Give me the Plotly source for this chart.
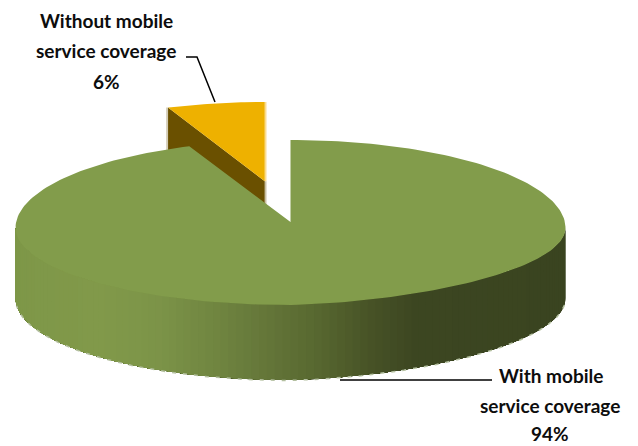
import numpy as np
import plotly.graph_objects as go

# Coverage shares, drawn clockwise from twelve o'clock
slice_names = ["With mobile service coverage", "Without mobile service coverage"]
shares = [94, 6]
label_lines_with = ["With mobile", "service coverage", "94%"]
label_lines_without = ["Without mobile", "service coverage", "6%"]

GREEN = "#829c4b"
GOLD = "#eeb100"
GOLD_WALL = "#6a5000"
# Rim shading, sampled left to right across the front of the disc
rim_stops_x = [16, 100, 160, 220, 270, 320, 370, 420, 566]
rim_stops_rgb = [
    (126, 151, 72), (129, 153, 74), (124, 148, 72), (112, 133, 64), (100, 118, 57),
    (88, 104, 48), (72, 84, 39), (60, 70, 33), (58, 68, 32),
]

# Projection of the tilted disc onto the page
CX, APEX_Y = 290.5, 222.0
RX = 275.0
RIM_Y = 228.0          # height of the widest part of the top face
RY_BACK, RY_FRONT = 88.0, 77.0
BASE_Y, RY_BASE = 298.0, 82.0
SKEW = 4.0
EXPLODE = 0.5
EXPLODED_SCALE = 0.955
EXPLODED_RY = 83.0


def outline(deg, cy, ry_back, ry_front):
    t = np.radians(deg)
    c, s = np.cos(t), np.sin(t)
    x = CX + RX * s
    y = cy - np.where(c > 0, ry_back, ry_front) * c
    # right-front quadrant sits slightly higher
    y = y + SKEW * np.where((s > 0) & (c < 0), np.sin(2 * t), 0)
    return x, y


def top_edge(deg):
    return outline(deg, RIM_Y, RY_BACK, RY_FRONT)


def base_edge(deg):
    return outline(deg, BASE_Y, RY_BASE, RY_BASE)


def poly(x, y, color, width=0.0):
    return go.Scatter(
        x=list(x), y=list(y), mode="lines", fill="toself", fillcolor=color,
        line=dict(color=color, width=width), hoverinfo="skip", showlegend=False,
    )


def stroke(x, y, color, width, dash="solid"):
    return go.Scatter(
        x=list(x), y=list(y), mode="lines", line=dict(color=color, width=width, dash=dash),
        hoverinfo="skip", showlegend=False,
    )


fig = go.Figure()

# Sweep of each slice in degrees
total = sum(shares)
main_sweep = 360.0 * shares[0] / total
gold_start, gold_end = main_sweep - 360.0, 0.0
mid = np.radians((gold_start + gold_end) / 2)

# Pulled-out slice sits behind the main disc
apex_x = CX + EXPLODE * RX * np.sin(mid)
apex_y = APEX_Y - EXPLODE * EXPLODED_RY * np.cos(mid)
arc = np.linspace(gold_start, gold_end, 30)
arc_r = np.radians(arc)
gold_x = apex_x + EXPLODED_SCALE * RX * np.sin(arc_r)
gold_y = apex_y - EXPLODED_SCALE * EXPLODED_RY * np.cos(arc_r)
depth = BASE_Y - RIM_Y

fig.add_trace(poly(
    [gold_x[0], apex_x, apex_x, gold_x[0]],
    [gold_y[0], apex_y, apex_y + depth, gold_y[0] + depth],
    GOLD_WALL,
))
fig.add_trace(stroke([gold_x[0] - 1, gold_x[0] - 1], [gold_y[0], gold_y[0] + depth], "#c9c0a4", 1.5))
fig.add_trace(stroke([apex_x + 1, apex_x + 1], [apex_y, apex_y + depth], "#c9c0a4", 1.5))
fig.add_trace(poly(
    np.concatenate([[apex_x], gold_x]), np.concatenate([[apex_y], gold_y]), GOLD,
))
fig.add_trace(stroke([apex_x + 1, apex_x + 1], [gold_y[-1], apex_y], "#fbdc90", 1.5))

# Front rim of the main slice: each band is painted over the previous one,
# running from its own start to the far left end, so no seams show between bands
rim_deg = np.linspace(90, 270, 111)
for a in rim_deg[:-1]:
    seg = np.linspace(a, 270, max(4, int((270 - a) / 2)))
    tx, ty = top_edge(seg)
    bx, by = base_edge(seg)
    rgb = [np.interp(tx[0], rim_stops_x, [c[i] for c in rim_stops_rgb]) for i in range(3)]
    col = "rgb({:.0f},{:.0f},{:.0f})".format(*rgb)
    fig.add_trace(poly(
        np.concatenate([tx, bx[::-1]]), np.concatenate([ty, by[::-1]]), col,
    ))

# Pale stepped fringe along the underside
fringe_deg = np.linspace(95, 265, 200)
fx, fy = base_edge(fringe_deg)
fig.add_trace(stroke(fx, fy + 0.5, "#b4c0a0", 1.5, "4px,7px"))

# Top face of the main slice
deg = np.linspace(0, main_sweep, 240)
tx, ty = top_edge(deg)
fig.add_trace(poly(np.concatenate([[CX], tx]), np.concatenate([[APEX_Y], ty]), GREEN))

# Leader lines
fig.add_trace(stroke([186, 197, 215], [57, 57, 102], "black", 1.5))
fig.add_trace(stroke([340, 492], [380, 380], "black", 1.5))


def text_block(lines, xs, ys):
    for line, x, y in zip(lines, xs, ys):
        fig.add_annotation(
            x=x, y=y, text=f"<b>{line}</b>", showarrow=False, xanchor="center", yanchor="middle",
            font=dict(family="Lato", size=19, color="#0d0d0d"),
            borderpad=0,
        )


text_block(label_lines_without, [106, 106, 106], [20, 50, 81])
text_block(label_lines_with, [551, 550, 550], [375, 405, 433])

fig.update_layout(
    width=638, height=446, margin=dict(l=0, r=0, t=0, b=0),
    paper_bgcolor="white", plot_bgcolor="white", showlegend=False,
    xaxis=dict(range=[0, 638], visible=False, fixedrange=True),
    yaxis=dict(range=[446, 0], visible=False, fixedrange=True),
)
fig.write_html("out.html", config={"displayModeBar": False})
